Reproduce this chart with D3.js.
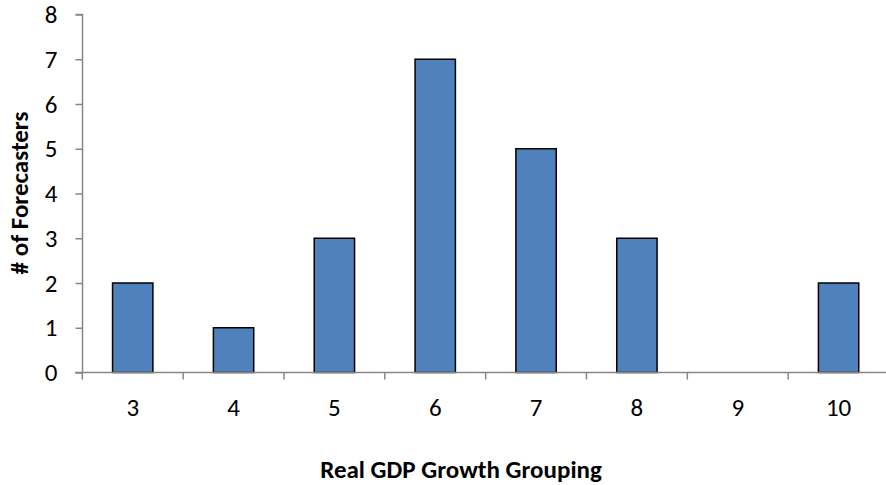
<!DOCTYPE html>
<html><head><meta charset="utf-8">
<script src="https://cdn.jsdelivr.net/npm/d3@7"></script>
<style>body{margin:0;background:#fff}svg{display:block}text{font-family:Carlito,Calibri,"Open Sans",sans-serif}</style>
</head><body>
<script>
const categories = ["3","4","5","6","7","8","9","10"];
const forecasters = [2,1,3,7,5,3,0,2];
const yTicks = [0,1,2,3,4,5,6,7,8];

const W = 886, H = 485;
const FS = 25;
const svg = d3.select("body").append("svg").attr("width", W).attr("height", H);
const x = d3.scaleBand().domain(categories).range([82.3, 889]).paddingInner(0.6).paddingOuter(0.3);
const y = d3.scaleLinear().domain([0, 8]).range([372.5, 14.5]);
const axisColor = "#868686";

// y axis
const ya = svg.append("g").attr("transform", "translate(82.5,0)")
  .call(d3.axisLeft(y).tickValues(yTicks).tickSize(7).tickPadding(18).tickFormat(d3.format("d")));
ya.select(".domain").attr("stroke", axisColor).attr("stroke-width", 1.5).attr("d", `M-7,${y(8)}H0V${y(0)}`);
ya.selectAll(".tick line").attr("stroke", axisColor).attr("stroke-width", 1.5);
ya.selectAll(".tick text").attr("font-size", FS).attr("fill", "#000");

// bars
svg.append("g").selectAll("rect").data(categories.map((c, i) => ({c, v: forecasters[i]})).filter(d => d.v > 0))
  .join("rect")
  .attr("x", d => x(d.c)).attr("width", x.bandwidth())
  .attr("y", d => y(d.v)).attr("height", d => y(0) - y(d.v))
  .attr("fill", "#4F81BD").attr("stroke", "#000").attr("stroke-width", 1.5);

// x axis
const xa = svg.append("g").attr("transform", `translate(0,${y(0)})`)
  .call(d3.axisBottom(x).tickSize(0).tickPadding(26));
xa.select(".domain").attr("stroke", axisColor).attr("stroke-width", 1.5).attr("d", `M75,0H${W}`);
xa.selectAll(".tick text").attr("font-size", FS).attr("fill", "#000");
const step = x.step();
const bounds = d3.range(categories.length + 1).map(i => x.range()[0] + i * step);
svg.append("g").selectAll("line").data(bounds).join("line")
  .attr("x1", d => d).attr("x2", d => d).attr("y1", y(0)).attr("y2", y(0) + 7)
  .attr("stroke", axisColor).attr("stroke-width", 1.5);

// titles
svg.append("text").attr("x", 461).attr("y", 478).attr("text-anchor", "middle")
  .attr("font-size", FS).attr("font-weight", "bold").text("Real GDP Growth Grouping");
svg.append("text").attr("transform", "translate(28,193) rotate(-90)").attr("text-anchor", "middle")
  .attr("font-size", FS).attr("font-weight", "bold").text("# of Forecasters");
</script>
</body></html>
